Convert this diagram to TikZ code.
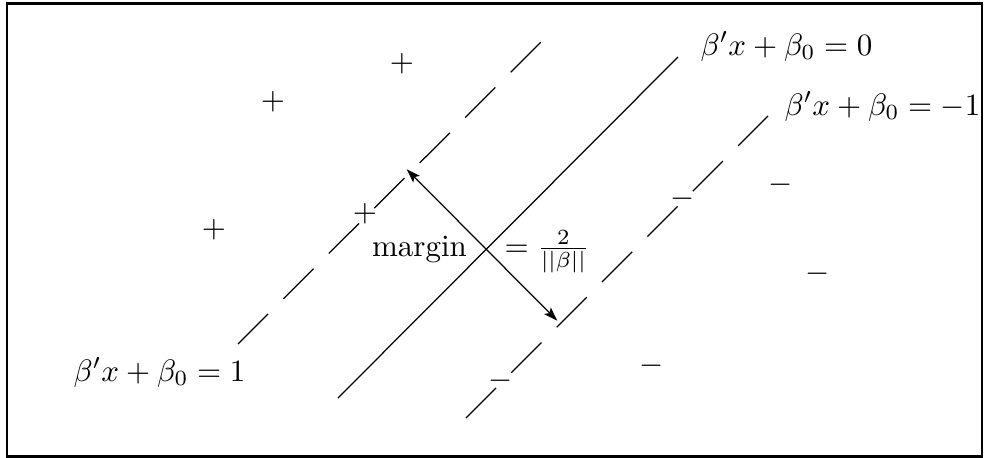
\documentclass[tikz,border=0pt]{standalone}
\usetikzlibrary{arrows.meta}
\begin{document}
\begin{tikzpicture}[
        x=0.3226pt, y=-0.3226pt,
        frame/.style={draw, line width=0.75pt},
        hyp/.style={line width=0.4pt},
        margline/.style={line width=0.4pt, dash pattern=on 13.7pt off 7pt},
        lab/.style={inner sep=0pt, anchor=base west},
        sgn/.style={inner sep=0pt},
        ar/.style={{Stealth[length=4.5pt,width=3pt,inset=1pt]}-{Stealth[length=4.5pt,width=3pt,inset=1pt]},
                   line width=0.4pt}
    ]
    \useasboundingbox (0,0) rectangle (987,458);
    \draw[frame] (7,3.5) rectangle (982,456.5);

    %% ---- separating hyperplane and the two margins ----
    \coordinate (pl1) at (238,344); \coordinate (pl2) at (542,41);
    \coordinate (hp1) at (338,398); \coordinate (hp2) at (678,57);
    \coordinate (mi1) at (466,418); \coordinate (mi2) at (768,116);
    \draw[margline] (pl1) -- (pl2);
    \draw[hyp]      (hp1) -- (hp2);
    \draw[margline] (mi1) -- (mi2);

    \node[lab] (eqzero)  at (700,55)  {$\beta'x+\beta_0=0$};
    \node[lab] (eqminus) at (784,115) {$\beta'x+\beta_0=-1$};
    \node[lab] (eqplus)  at (73,381)  {$\beta'x+\beta_0=1$};

    %% ---- margin width ----
    \coordinate (wtop) at (406.7,169.3);
    \coordinate (wbot) at (557.3,320.7);
    \draw[ar] (wtop) -- (wbot);
    \node[lab, anchor=base east] (margin) at (467.5,256.5) {margin};
    \node[lab] (width) at (504,256.5) {$=\frac{2}{||\beta||}$};

    %% ---- the two classes ----
    \foreach \pos [count=\i] in {(402,64),(273,102),(214,230),(365,214)}
        \node[sgn] (plus\i) at \pos {$+$};
    \foreach \pos [count=\i] in {(781,185),(683,199),(818,274),(652,366),(501,381)}
        \node[sgn] (minus\i) at \pos {$-$};
\end{tikzpicture}
\end{document}
